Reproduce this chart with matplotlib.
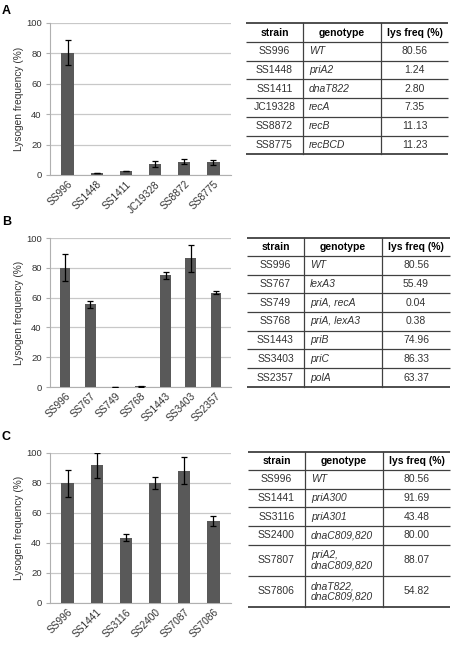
import matplotlib
matplotlib.use("Agg")
import matplotlib.pyplot as plt
import numpy as np

plt.rcParams['font.family'] = ['Liberation Sans', 'DejaVu Sans']

# ---------------- data ----------------
strains_a = ["SS996", "SS1448", "SS1411", "JC19328", "SS8872", "SS8775"]
vals_a = [80.56, 1.24, 2.80, 7.35, 8.8, 8.3]
errs_a = [8.5, 0.0, 0.0, 1.8, 1.8, 1.8]
tab_strain_a = ["SS996", "SS1448", "SS1411", "JC19328", "SS8872", "SS8775"]
tab_geno_a = ["WT", "priA2", "dnaT822", "recA", "recB", "recBCD"]
tab_freq_a = ["80.56", "1.24", "2.80", "7.35", "11.13", "11.23"]

strains_b = ["SS996", "SS767", "SS749", "SS768", "SS1443", "SS3403", "SS2357"]
vals_b = [80.0, 55.49, 0.04, 0.38, 74.96, 86.33, 63.37]
errs_b = [9.0, 2.5, 0.0, 0.5, 2.5, 9.0, 1.0]
tab_strain_b = ["SS996", "SS767", "SS749", "SS768", "SS1443", "SS3403", "SS2357"]
tab_geno_b = ["WT", "lexA3", "priA, recA", "priA, lexA3", "priB", "priC", "polA"]
tab_freq_b = ["80.56", "55.49", "0.04", "0.38", "74.96", "86.33", "63.37"]

strains_c = ["SS996", "SS1441", "SS3116", "SS2400", "SS7087", "SS7086"]
vals_c = [80.0, 91.69, 43.48, 80.00, 88.07, 54.82]
errs_c = [9.0, 8.3, 2.2, 3.7, 9.0, 3.2]
tab_strain_c = ["SS996", "SS1441", "SS3116", "SS2400", "SS7807", "SS7806"]
tab_geno_c = ["WT", "priA300", "priA301", "dnaC809,820", "priA2,\ndnaC809,820", "dnaT822,\ndnaC809,820"]
tab_freq_c = ["80.56", "91.69", "43.48", "80.00", "88.07", "54.82"]

W, H = 454, 649
fig = plt.figure(figsize=(W / 100, H / 100), dpi=100)

BAR = "#595959"
GRID = "#c8c8c8"
TXT = "#333333"


def px_axes(left, top, right, bottom):
    return fig.add_axes([left / W, 1 - bottom / H, (right - left) / W, (bottom - top) / H])


def bar_panel(box, names, vals, errs):
    ax = px_axes(*box)
    x = np.arange(len(names))
    ax.bar(x, vals, width=0.42, color=BAR, zorder=3)
    ax.errorbar(x, vals, yerr=errs, fmt="none", ecolor="black", elinewidth=0.9,
                capsize=2.2, capthick=0.9, zorder=4)
    ax.set_xlim(-0.6, len(names) - 0.4)
    ax.set_ylim(0, 100)
    ax.set_yticks([0, 20, 40, 60, 80, 100])
    ax.yaxis.grid(True, color=GRID, linewidth=0.9, zorder=0)
    for s in ["top", "right"]:
        ax.spines[s].set_visible(False)
    ax.spines["left"].set_color("#b0b0b0")
    ax.spines["bottom"].set_color("#b0b0b0")
    ax.tick_params(axis="y", length=3, color="#b0b0b0", labelsize=6.8, labelcolor=TXT, pad=3)
    ax.tick_params(axis="x", length=0, labelsize=7.3, labelcolor=TXT, pad=3)
    ax.set_xticks(x)
    ax.set_xticklabels(names, rotation=45, ha="right", va="top", rotation_mode="anchor")
    ax.set_ylabel("Lysogen frequency (%)", fontsize=7.3, color=TXT, labelpad=1.5)
    return ax


bar_panel((50, 23, 231, 175), strains_a, vals_a, errs_a)
bar_panel((50, 238, 231, 387), strains_b, vals_b, errs_b)
bar_panel((50, 453, 231, 603), strains_c, vals_c, errs_c)

# overlay in pixel coords for tables and panel letters
ov = fig.add_axes([0, 0, 1, 1])
ov.set_xlim(0, W)
ov.set_ylim(H, 0)
ov.axis("off")

for letter, y in [("A", 11), ("B", 222), ("C", 437)]:
    ov.text(2, y, letter, fontsize=9, fontweight="bold", ha="left", va="center", color="black")


def table(x0, c1, c2, x1, top, hdr, row_heights, strains, genos, freqs):
    lc = "#404040"
    ys = [top, hdr]
    for h in row_heights:
        ys.append(ys[-1] + h)
    for i, y in enumerate(ys):
        lw = 1.3 if i in (0, len(ys) - 1) else 0.9
        ov.plot([x0, x1], [y, y], color=lc, lw=lw, solid_capstyle="butt")
    for xc in (c1, c2):
        ov.plot([xc, xc], [top, ys[-1]], color=lc, lw=0.9)
    ym = (top + hdr) / 2
    for xc, t in [((x0 + c1) / 2, "strain"), ((c1 + c2) / 2, "genotype"), ((c2 + x1) / 2, "lys freq (%)")]:
        ov.text(xc, ym, t, fontsize=7.5, fontweight="bold", ha="center", va="center", color="black")
    for i in range(len(strains)):
        yc = (ys[i + 1] + ys[i + 2]) / 2
        ov.text((x0 + c1) / 2, yc, strains[i], fontsize=7.5, ha="center", va="center", color=TXT)
        ov.text(c1 + 6, yc, genos[i], fontsize=7.5, style="italic", ha="left", va="center",
                color=TXT, linespacing=1.05)
        ov.text((c2 + x1) / 2, yc, freqs[i], fontsize=7.5, ha="center", va="center", color=TXT)


table(246, 303, 381, 448, 23, 42, [18.7] * 6, tab_strain_a, tab_geno_a, tab_freq_a)
table(247, 304, 382, 450, 238, 256, [18.7] * 7, tab_strain_b, tab_geno_b, tab_freq_b)
table(248, 305, 383, 450, 452, 470, [18.7] * 4 + [31, 31], tab_strain_c, tab_geno_c, tab_freq_c)

fig.savefig("out.png", dpi=100)
